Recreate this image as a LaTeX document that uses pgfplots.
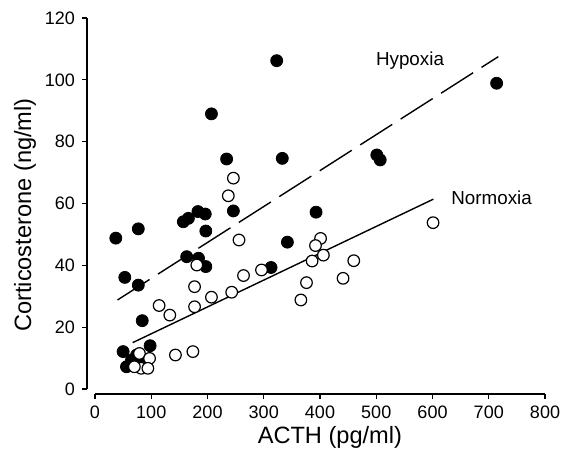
\documentclass[border=0pt]{standalone}
\usepackage{fontspec}
\setmainfont{Liberation Sans}
\setsansfont{Liberation Sans}
\usepackage{pgfplots}
\pgfplotsset{compat=1.18}

% Hypoxia (filled) and normoxia (open): ACTH pg/ml vs corticosterone ng/ml
\pgfplotstableread{
x y
37 48.8
77 51.8
53 36.1
77 33.6
84 22.1
50 12.1
98 14.0
56 7.2
65 9.4
74 11.0
85 9.4
157 54.1
166 55.2
183 57.4
196 56.6
197 51.1
246 57.6
163 42.8
184 42.3
197 39.6
313 39.3
342 47.5
234 74.4
333 74.6
323 106.2
714 98.9
207 89.0
501 75.7
507 74.1
393 57.2
}\hypoxia

\pgfplotstableread{
x y
246 68.2
237 62.5
256 48.2
181 40.1
177 33.1
114 27.0
133 23.9
177 26.6
207 29.7
243 31.3
264 36.7
296 38.5
143 11.0
174 12.1
601 53.8
401 48.7
392 46.4
406 43.3
386 41.4
460 41.5
441 35.8
376 34.4
366 28.8
79 11.5
97 9.9
82 6.7
94 6.7
70 7.2
}\normoxia

\begin{document}
\begin{tikzpicture}
\useasboundingbox (-47.5pt,-36.5pt) rectangle (235pt,194.5pt);
\begin{axis}[
  scale only axis, width=225pt, height=185.5pt,
  xmin=0, xmax=800, ymin=0, ymax=120,
  axis x line*=bottom, axis y line*=left,
  axis x line shift=2.5pt, axis y line shift=4pt,
  axis line style={-, line width=0.6pt},
  xtick={0,100,...,800}, ytick={0,20,...,120},
  tick align=outside, major tick length=2.5pt,
  tick style={line width=0.6pt, black},
  xticklabel style={font=\fontsize{9}{10}\selectfont},
  yticklabel style={font=\fontsize{9}{10}\selectfont},
  /pgf/number format/assume math mode=true,
  xlabel={ACTH (pg/ml)}, ylabel={Corticosterone (ng/ml)},
  every axis x label/.style={at={(rel axis cs:0.522,0)}, anchor=center, yshift=-24pt,
    font=\fontsize{11.8}{14}\selectfont},
  every axis y label/.style={at={(rel axis cs:0,0.469)}, anchor=center, rotate=90, yshift=35pt,
    font=\fontsize{11.8}{14}\selectfont},
  clip=false,
]
\addplot[black, line width=0.7pt, dash pattern=on 19pt off 5pt] coordinates {(40,28.8) (717,107.5)};
\addplot[black, line width=0.7pt] coordinates {(67,15.0) (601.5,61.4)};
\addplot[only marks, mark=*, mark size=3pt, mark options={fill=black, draw=black}] table {\hypoxia};
\addplot[only marks, mark=*, mark size=2.9pt, mark options={fill=white, draw=black, line width=0.6pt}] table {\normoxia};
\node[font=\fontsize{9.4}{11}\selectfont] at (axis cs:560,106.1) {Hypoxia};
\node[font=\fontsize{9.4}{11}\selectfont] at (axis cs:705,61.7) {Normoxia};
\end{axis}
\end{tikzpicture}
\end{document}
